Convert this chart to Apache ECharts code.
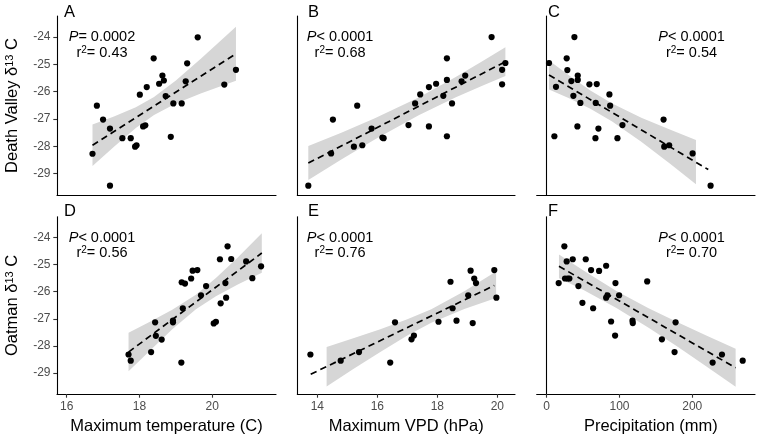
<!DOCTYPE html>
<html><head><meta charset="utf-8">
<script src="https://cdn.jsdelivr.net/npm/echarts@6/dist/echarts.min.js"></script>
<style>html,body{margin:0;padding:0;background:#fff}#c{width:757px;height:436px}</style>
</head><body><div id="c"></div>
<script>
// ---------------- DATA ----------------
const xTitles = ['Maximum temperature (C)', 'Maximum VPD (hPa)', 'Precipitation (mm)'];
const yTitles = ['Death Valley δ{s|13} C', 'Oatman δ{s|13} C'];
const panelLetters = ['A', 'B', 'C', 'D', 'E', 'F'];
const xTickValues = [[16, 18, 20], [14, 16, 18, 20], [0, 100, 200]];
const yTickValues = [-29, -28, -27, -26, -25, -24];
const pTexts = ['= 0.0002', '< 0.0001', '< 0.0001', '< 0.0001', '< 0.0001', '< 0.0001'];
const r2Texts = ['0.43', '0.68', '0.54', '0.56', '0.76', '0.70'];

const dvTemp = [[16.71,-28.27],[16.83,-26.51],[17.00,-27.02],[17.19,-27.35],[17.19,-29.44],[17.53,-27.70],[17.76,-27.70],[17.88,-28.01],[17.92,-27.96],[18.01,-26.11],[18.10,-27.27],[18.16,-27.23],[18.20,-25.83],[18.39,-24.78],[18.54,-25.71],[18.63,-25.41],[18.67,-25.59],[18.72,-26.16],[18.86,-27.65],[18.93,-26.43],[19.16,-26.43],[19.27,-25.62],[19.31,-24.96],[19.60,-24.01],[20.33,-25.74],[20.65,-25.20]];
const dvVpd = [[13.70,-29.44],[14.46,-28.26],[14.52,-27.02],[15.22,-28.01],[15.33,-26.51],[15.50,-27.96],[15.81,-27.35],[16.17,-27.68],[16.21,-27.70],[17.04,-27.22],[17.26,-26.43],[17.43,-26.10],[17.72,-25.83],[17.72,-27.27],[17.96,-25.71],[18.20,-26.15],[18.32,-24.78],[18.32,-25.57],[18.32,-27.63],[18.49,-26.43],[18.81,-25.62],[18.93,-25.41],[19.81,-24.00],[20.16,-25.20],[20.16,-25.73],[20.27,-24.95]];
const dvPpt = [[3.2,-24.95],[10.6,-27.63],[12.8,-25.82],[27.5,-24.78],[28.4,-25.21],[33.9,-25.61],[36.7,-26.15],[38.1,-24.00],[42.2,-27.27],[42.7,-25.41],[42.7,-25.57],[46.3,-26.41],[58.7,-25.73],[67.0,-27.70],[67.4,-26.41],[68.8,-25.72],[71.1,-27.35],[86.2,-26.10],[87.2,-26.51],[97.2,-27.70],[104.1,-27.22],[160.6,-27.02],[161.5,-28.01],[168.3,-27.96],[200.5,-28.26],[225.2,-29.44]];
const oaTemp = [[17.70,-28.32],[17.76,-28.55],[18.32,-28.23],[18.43,-27.13],[18.45,-27.63],[18.61,-27.77],[18.92,-27.13],[18.92,-27.07],[19.15,-28.62],[19.16,-25.65],[19.19,-26.61],[19.25,-25.70],[19.42,-25.51],[19.46,-25.22],[19.59,-25.20],[19.69,-26.13],[19.83,-25.79],[20.04,-27.17],[20.10,-27.11],[20.21,-24.80],[20.23,-26.43],[20.36,-25.68],[20.38,-26.22],[20.42,-24.32],[20.52,-24.79],[20.93,-24.88],[21.10,-25.50],[21.34,-25.06]];
const oaVpd = [[13.77,-28.32],[14.78,-28.55],[15.39,-28.23],[16.43,-28.62],[16.59,-27.13],[17.14,-27.76],[17.22,-27.62],[18.04,-27.11],[18.44,-25.63],[18.51,-26.61],[18.64,-27.07],[19.03,-26.13],[19.11,-25.22],[19.18,-27.16],[19.23,-25.51],[19.29,-25.68],[19.90,-25.20],[19.97,-26.22]];
const oaPpt = [[16.5,-25.68],[24.3,-24.32],[25.2,-25.51],[27.5,-24.88],[28.9,-25.51],[31.2,-25.51],[35.8,-24.80],[43.6,-25.79],[49.1,-26.41],[53.7,-24.80],[61.0,-25.20],[63.8,-26.61],[72.0,-25.23],[81.7,-25.04],[81.7,-26.22],[83.5,-26.13],[88.5,-27.10],[94.0,-27.62],[94.5,-25.68],[99.5,-26.13],[117.9,-27.07],[118.3,-27.16],[138.1,-25.62],[158.3,-27.76],[175.7,-28.23],[177.1,-27.13],[228.0,-28.62],[240.8,-28.32],[269.3,-28.55]];

// fitted dashed lines (end points)
const fitA = [[16.71,-27.96],[20.65,-24.61]];
const fitB = [[13.70,-28.61],[20.27,-24.90]];
const fitC = [[3.2,-25.39],[222,-28.85]];
const fitD = [[17.70,-28.23],[21.36,-24.57]];
const fitE = [[13.78,-29.05],[19.90,-25.77]];
const fitF = [[16.9,-25.06],[259.6,-28.81]];

// confidence bands (x, upper, lower)
const bandAx = [16.71,17.3,17.9,18.4,19.0,19.7,20.65];
const bandAhi = [-27.20,-26.91,-26.57,-26.19,-25.59,-24.78,-23.62];
const bandAlo = [-28.72,-28.01,-27.33,-26.85,-26.43,-26.06,-25.60];
const bandBx = [13.70,14.8,15.9,17.38,18.6,19.5,20.27];
const bandBhi = [-27.99,-27.50,-26.98,-26.21,-25.47,-24.89,-24.37];
const bandBlo = [-29.23,-28.48,-27.76,-26.86,-26.21,-25.78,-25.43];
const bandCx = [3.2,30,60,90,130,170,205.1];
const bandChi = [-24.86,-25.39,-25.96,-26.43,-26.95,-27.39,-27.77];
const bandClo = [-25.92,-26.23,-26.62,-27.09,-27.83,-28.65,-29.39];
const bandDx = [17.70,18.3,18.9,19.55,20.1,20.7,21.36];
const bandDhi = [-27.52,-27.10,-26.67,-26.11,-25.49,-24.73,-23.84];
const bandDlo = [-28.94,-28.16,-27.39,-26.65,-26.17,-25.73,-25.30];
const bandEx = [14.31,15.2,16.1,17.0,17.8,18.9,19.96];
const bandEhi = [-28.04,-27.72,-27.39,-27.02,-26.65,-25.98,-25.25];
const bandElo = [-29.50,-28.86,-28.23,-27.62,-27.15,-26.64,-26.23];
const bandFx = [16.9,50,95.8,140,180,220,259.6];
const bandFhi = [-24.62,-25.21,-25.97,-26.61,-27.13,-27.63,-28.11];
const bandFlo = [-25.50,-25.93,-26.60,-27.33,-28.03,-28.77,-29.51];

const points = [dvTemp, dvVpd, dvPpt, oaTemp, oaVpd, oaPpt];
const fits = [fitA, fitB, fitC, fitD, fitE, fitF];
const bands = [
  [bandAx, bandAhi, bandAlo], [bandBx, bandBhi, bandBlo], [bandCx, bandChi, bandClo],
  [bandDx, bandDhi, bandDlo], [bandEx, bandEhi, bandElo], [bandFx, bandFhi, bandFlo]
];

// ---------------- LAYOUT ----------------
const FONT = 'Liberation Sans, Arial, Helvetica, sans-serif';
const cols = [{left: 57, width: 219}, {left: 297.3, width: 217.7}, {left: 536.7, width: 218.3}];
const rows = [{top: 16, height: 179}, {top: 216.8, height: 179}];
const xRanges = [[15.735, 21.75], [13.333, 20.59], [-13.7, 286.2]];
const yRange = [-29.78, -23.23];
const annotX = [16.97, 14.76, 199];
const annotYP = -24.0, annotYR = -24.58;
const letterPos = [[64, 4], [308, 4], [548, 4], [64, 203], [308, 203], [548, 203]];

const grids = [], xAxes = [], yAxes = [], series = [], graphics = [];
for (let i = 0; i < 6; i++) {
  const r = Math.floor(i / 3), c = i % 3;
  grids.push({left: cols[c].left, width: cols[c].width, top: rows[r].top, height: rows[r].height, containLabel: false});
  const bottomRow = r === 1;
  xAxes.push({
    gridIndex: i, type: 'value', min: xRanges[c][0], max: xRanges[c][1],
    axisLine: {show: true, lineStyle: {color: '#000', width: 1.1}},
    axisTick: {show: bottomRow, length: 3.7, lineStyle: {color: '#333', width: 1.1}, customValues: xTickValues[c]},
    axisLabel: {show: bottomRow, customValues: xTickValues[c], margin: 6.5, color: '#4d4d4d', fontSize: 12, fontFamily: FONT},
    splitLine: {show: false},
    name: bottomRow ? xTitles[c] : '', nameLocation: 'middle', nameGap: 24,
    nameTextStyle: {fontSize: 16.5, color: '#000', fontFamily: FONT, padding: c === 2 ? [0, 0, 0, 10] : 0}
  });
  const firstCol = c === 0;
  yAxes.push({
    gridIndex: i, type: 'value', min: yRange[0], max: yRange[1],
    axisLine: {show: true, lineStyle: {color: '#000', width: 1.1}},
    axisTick: {show: firstCol, length: 3.7, lineStyle: {color: '#333', width: 1.1}, customValues: yTickValues},
    axisLabel: {show: firstCol, customValues: yTickValues, margin: 6.5, color: '#4d4d4d', fontSize: 12, fontFamily: FONT},
    splitLine: {show: false},
    name: firstCol ? yTitles[r] : '', nameLocation: 'middle', nameRotate: 90, nameGap: 36,
    nameTextStyle: {fontSize: 16.5, color: '#000', fontFamily: FONT,
      rich: {s: {fontSize: 11, color: '#000', fontFamily: FONT, verticalAlign: 'top', lineHeight: 11}}}
  });

  const [bx, bhi, blo] = bands[i];
  series.push({
    type: 'custom', xAxisIndex: i, yAxisIndex: i, silent: true, z: 1,
    data: [[bx[0], bhi[0]]],
    renderItem: function (params, api) {
      const pts = [];
      for (let k = 0; k < bx.length; k++) pts.push(api.coord([bx[k], bhi[k]]));
      for (let k = bx.length - 1; k >= 0; k--) pts.push(api.coord([bx[k], blo[k]]));
      return {type: 'polygon', shape: {points: pts}, style: {fill: '#d6d6d6'}};
    }
  });
  series.push({
    type: 'scatter', xAxisIndex: i, yAxisIndex: i, data: points[i], symbol: 'circle', symbolSize: 6.2,
    itemStyle: {color: '#000', opacity: 1}, z: 3, silent: true
  });
  series.push({
    type: 'line', xAxisIndex: i, yAxisIndex: i, data: fits[i], symbol: 'none', z: 4, silent: true,
    lineStyle: {color: '#000', width: 1.7, type: [6.5, 4.2]}
  });
  series.push({
    type: 'scatter', xAxisIndex: i, yAxisIndex: i, symbolSize: 1, z: 5, silent: true,
    itemStyle: {color: 'rgba(0,0,0,0)', opacity: 1},
    data: [
      {value: [annotX[c], annotYP], label: {formatter: '{i|P}{n|' + pTexts[i] + '}'}},
      {value: [annotX[c], annotYR], label: {formatter: '{n|r}{s|2}{n|= ' + r2Texts[i] + '}'}}
    ],
    label: {
      show: true, position: 'inside', align: 'center', verticalAlign: 'middle', color: '#000',
      rich: {
        i: {fontStyle: 'italic', fontSize: 14.5, fontFamily: FONT, color: '#000', lineHeight: 16},
        n: {fontSize: 14.5, fontFamily: FONT, color: '#000', lineHeight: 16},
        s: {fontSize: 10, fontFamily: FONT, color: '#000', verticalAlign: 'top', lineHeight: 10}
      }
    }
  });
  graphics.push({
    type: 'text', left: letterPos[i][0], top: letterPos[i][1], silent: true,
    style: {text: panelLetters[i], fontSize: 16.5, fontFamily: FONT, fill: '#000'}
  });
}

const chart = echarts.init(document.getElementById('c'), null, {renderer: 'canvas'});
chart.setOption({
  animation: false,
  backgroundColor: '#fff',
  textStyle: {fontFamily: FONT},
  grid: grids, xAxis: xAxes, yAxis: yAxes, series: series, graphic: graphics
});
</script>
</body></html>
